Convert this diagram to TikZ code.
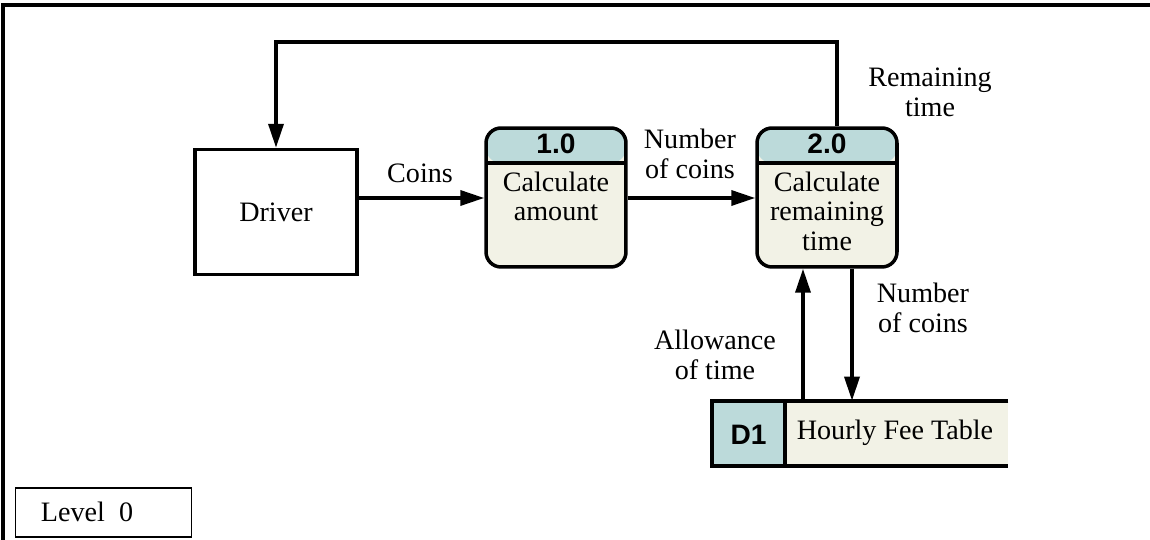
\documentclass[tikz,border=0pt]{standalone}
\usepackage{fontspec}
\setmainfont{Liberation Serif}
\newfontfamily\hdrfont{Liberation Sans}
\usetikzlibrary{arrows.meta,calc}
\definecolor{hdrcol}{RGB}{188,218,218}
\definecolor{bodycol}{RGB}{242,242,230}
\tikzset{%
  flow/.style={line width=2pt, -{Triangle[length=0.48cm,width=0.3cm]}},
  frame line/.style={line width=2pt},
  entity/.style={draw, line width=2pt, minimum width=3.24cm, minimum height=2.5cm},
  % rounded process box with a coloured header strip
  process/.style={draw, line width=2pt, rounded corners=0.3cm, fill=bodycol,
    minimum width=2.8cm, minimum height=2.78cm, inner sep=0pt,
    path picture={%
      \fill[hdrcol] (path picture bounding box.north west)
        rectangle ([yshift=-0.7cm]path picture bounding box.north east);
      \draw[line width=2pt] ([yshift=-0.7cm]path picture bounding box.north west)
        -- ([yshift=-0.7cm]path picture bounding box.north east);
    }},
  proc id/.style={font=\hdrfont\bfseries, inner sep=0pt},
  proc text/.style={align=center, anchor=north, inner sep=0pt},
  flow label/.style={align=center, inner sep=0pt},
}
\begin{document}
\fontsize{16}{17}\selectfont
\begin{tikzpicture}[x=0.02cm,y=-0.02cm]
  \useasboundingbox (0,0) rectangle (1150,540);
  % page frame
  \draw[frame line] (3,540) -- (3,5) -- (1150,5);
  % external entity
  \node[entity] (driver) at (276,212) {Driver};
  % processes
  \node[process] (p1) at (556,197.5) {};
  \node[proc id] (p1id) at ([yshift=-0.35cm]p1.north) {1.0};
  \node[proc text] (p1txt) at ([yshift=-0.9cm]p1.north) {Calculate\\amount};
  \node[process] (p2) at (827,197.5) {};
  \node[proc id] (p2id) at ([yshift=-0.35cm]p2.north) {2.0};
  \node[proc text] (p2txt) at ([yshift=-0.9cm]p2.north) {Calculate\\remaining\\time};
  % data store
  \node[fill=bodycol, minimum width=5.92cm, minimum height=1.3cm, inner sep=0pt] (store) at (860,433.5) {};
  \node[fill=hdrcol, minimum width=1.46cm, minimum height=1.3cm, inner sep=0pt,
    font=\hdrfont\bfseries] (d1) at (748.5,435) {D1};
  \draw[line width=2.4pt] (store.north east) -- (store.north west) -- (store.south west) -- (store.south east);
  \draw[line width=2.4pt] (d1.north east |- store.north) -- (d1.south east |- store.south);
  \node (storetxt) at (895,433) {Hourly Fee Table};
  % flows
  \draw[flow] (driver.east |- 0,198) -- (p1.west |- 0,198);
  \draw[flow] (p1.east |- 0,198) -- (p2.west |- 0,198);
  \coordinate (out2) at ([xshift=0.2cm]p2.north);
  \draw[flow] (out2) -- ++(0,-84) -| (driver.north);
  \coordinate (in2) at ([xshift=-0.48cm]p2.south);
  \coordinate (out2b) at ([xshift=0.5cm]p2.south);
  \draw[flow] (in2 |- store.north) -- (in2);
  \draw[flow] (out2b) -- (out2b |- store.north);
  % flow labels
  \node[flow label] (lcoins) at (420,173) {Coins};
  \node[flow label] (lnum1) at (690,154) {Number\\of coins};
  \node[flow label] (lrem) at (930,92) {Remaining\\time};
  \node[flow label] (lnum2) at (923,308) {Number\\of coins};
  \node[flow label] (lallow) at (715,355) {Allowance\\of time};
  % level tag
  \node[draw, line width=0.9pt, minimum width=3.52cm, minimum height=0.98cm] (lvl) at (103.5,512.5) {};
  \node (lvltxt) at (87,512) {Level\ \ 0};
\end{tikzpicture}
\end{document}
